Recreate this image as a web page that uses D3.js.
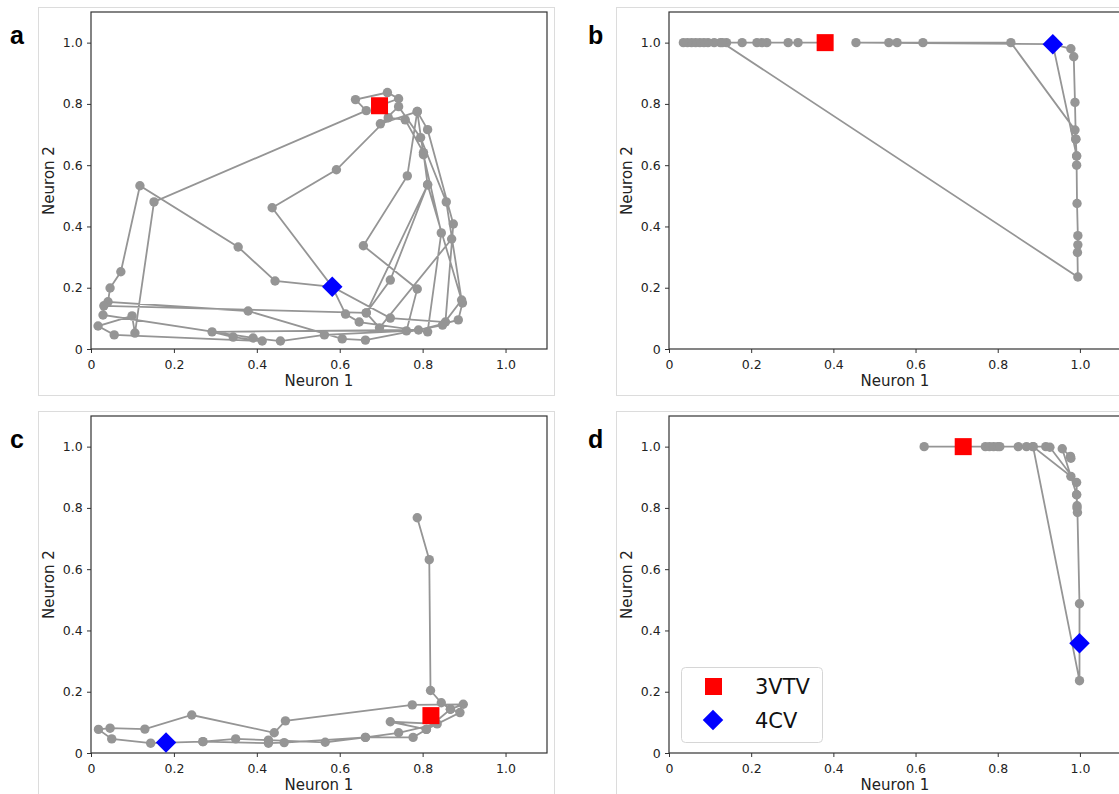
<!DOCTYPE html>
<html><head><meta charset="utf-8">
<script src="https://cdn.jsdelivr.net/npm/d3@7/dist/d3.min.js"></script>
<style>body{margin:0;background:#fff;}svg{display:block;font-family:"DejaVu Sans",sans-serif;}</style>
</head><body><svg id="c" width="1119" height="794"></svg>
<script>
const tickValues = [0, 0.2, 0.4, 0.6, 0.8, 1.0];
const xLabel = "Neuron 1", yLabel = "Neuron 2";
const panelLetters = ["a", "b", "c", "d"];
const legendLabels = ["3VTV", "4CV"];

const pathA = [[0.696,0.794],[0.742,0.817],[0.715,0.837],[0.638,0.814],[0.664,0.778],[0.152,0.480],[0.106,0.052],[0.099,0.108],[0.017,0.075],[0.056,0.046],[0.413,0.026],[0.343,0.039],[0.292,0.056],[0.790,0.062],[0.886,0.095],[0.896,0.150],[0.812,0.536],[0.802,0.641],[0.758,0.748],[0.717,0.755],[0.592,0.585],[0.437,0.461],[0.582,0.203],[0.722,0.101],[0.855,0.088],[0.874,0.408],[0.812,0.716],[0.787,0.775],[0.698,0.735],[0.742,0.791],[0.795,0.690],[0.857,0.480],[0.894,0.160],[0.848,0.078],[0.662,0.029],[0.606,0.033],[0.379,0.124],[0.041,0.154],[0.046,0.199],[0.072,0.252],[0.118,0.533],[0.355,0.333],[0.444,0.222],[0.582,0.203],[0.614,0.114],[0.647,0.088],[0.812,0.056],[0.845,0.379],[0.802,0.634],[0.787,0.775],[0.763,0.565],[0.657,0.337],[0.787,0.196],[0.761,0.059],[0.563,0.046],[0.457,0.026],[0.391,0.036],[0.029,0.111],[0.031,0.141],[0.664,0.118],[0.812,0.536],[0.722,0.225],[0.664,0.118],[0.696,0.069],[0.870,0.359]];
const pathB = [[0.380,1.0],[0.314,1.0],[0.290,1.0],[0.238,1.0],[0.226,1.0],[0.214,1.0],[0.178,1.0],[0.140,1.0],[0.125,1.0],[0.110,1.0],[0.095,1.0],[0.085,1.0],[0.075,1.0],[0.065,1.0],[0.055,1.0],[0.045,1.0],[0.035,1.0],[0.130,1.0],[0.995,0.235],[0.994,0.315],[0.995,0.340],[0.995,0.370],[0.993,0.475],[0.992,0.600],[0.992,0.630],[0.990,0.685],[0.988,0.715],[0.832,1.0],[0.618,1.0],[0.555,1.0],[0.535,1.0],[0.455,1.0],[0.934,0.995],[0.978,0.980],[0.985,0.954],[0.988,0.805],[0.990,0.685],[0.992,0.630],[0.934,0.995]];
const pathC = [[0.787,0.768],[0.816,0.631],[0.819,0.204],[0.845,0.164],[0.867,0.143],[0.898,0.159],[0.775,0.157],[0.469,0.105],[0.442,0.066],[0.243,0.124],[0.130,0.078],[0.046,0.081],[0.018,0.077],[0.050,0.046],[0.144,0.032],[0.270,0.037],[0.349,0.046],[0.428,0.042],[0.565,0.035],[0.662,0.051],[0.742,0.066],[0.835,0.095],[0.722,0.102],[0.809,0.077],[0.890,0.132],[0.867,0.143],[0.809,0.077],[0.777,0.051],[0.662,0.051],[0.466,0.034],[0.428,0.032],[0.270,0.037]];
const pathD = [[0.621,1.0],[0.716,1.0],[0.770,1.0],[0.780,1.0],[0.790,1.0],[0.800,1.0],[0.805,1.0],[0.850,1.0],[0.870,1.0],[0.886,1.0],[0.999,0.236],[0.999,0.358],[0.999,0.487],[0.994,0.785],[0.993,0.807],[0.992,0.843],[0.978,0.903],[0.886,1.0],[0.917,1.0],[0.927,0.998],[0.992,0.883],[0.993,0.800],[0.992,0.843],[0.957,0.993],[0.977,0.968],[0.978,0.962]];

const redMarkers = [[0.696,0.794],[0.380,1.0],[0.820,0.122],[0.716,1.0]];
const blueMarkers = [[0.582,0.203],[0.934,0.995],[0.181,0.034],[0.999,0.358]];
const paths = [pathA, pathB, pathC, pathD];

const svg = d3.select("#c");
const layout = [
  {x0:91, x1:547, yt:12, yb:349, fx:38, fy:7, fw:516, fh:388, lx:10, ly:44},
  {x0:669, x1:1121, yt:12, yb:349, fx:616, fy:7, fw:516, fh:388, lx:588, ly:44},
  {x0:91, x1:547, yt:416, yb:753, fx:38, fy:411, fw:516, fh:388, lx:10, ly:448},
  {x0:669, x1:1121, yt:416, yb:753, fx:616, fy:411, fw:516, fh:388, lx:588, ly:448}
];
const gray = "#959595";
layout.forEach((L, i) => {
  const g = svg.append("g");
  g.append("rect").attr("x", L.fx+0.5).attr("y", L.fy+0.5).attr("width", L.fw).attr("height", L.fh)
    .attr("fill", "none").attr("stroke", "#dcdcdc").attr("stroke-width", 1);
  const x = d3.scaleLinear().domain([0, 1.1]).range([L.x0, L.x1]);
  const y = d3.scaleLinear().domain([0, 1.1]).range([L.yb, L.yt]);
  const fmt = d => d === 0 ? "0" : d.toFixed(1);
  const xa = g.append("g").attr("transform", `translate(0,${L.yb})`)
    .call(d3.axisBottom(x).tickValues(tickValues).tickFormat(fmt).tickSize(4).tickSizeOuter(0));
  const ya = g.append("g").attr("transform", `translate(${L.x0},0)`)
    .call(d3.axisLeft(y).tickValues(tickValues).tickFormat(fmt).tickSize(4).tickSizeOuter(0));
  [xa, ya].forEach(a => {
    a.select(".domain").remove();
    a.selectAll("line").attr("stroke", "#333");
    a.selectAll("text").attr("font-size", 12.5).attr("fill", "#222").attr("font-family", "DejaVu Sans");
  });
  xa.selectAll("text").attr("dy", "1.0em");
  ya.selectAll("text").attr("dx", "-0.1em");
  g.append("rect").attr("x", L.x0).attr("y", L.yt).attr("width", L.x1 - L.x0).attr("height", L.yb - L.yt)
    .attr("fill", "none").attr("stroke", "#333").attr("stroke-width", 1.2);
  g.append("text").attr("x", (L.x0 + L.x1) / 2).attr("y", L.yb + 37).attr("text-anchor", "middle")
    .attr("font-size", 15).attr("fill", "#222").text(xLabel);
  g.append("text").attr("transform", `translate(${L.x0 - 37},${(L.yt + L.yb) / 2}) rotate(-90)`)
    .attr("text-anchor", "middle").attr("font-size", 15).attr("fill", "#222").text(yLabel);
  g.append("text").attr("x", L.lx).attr("y", L.ly).attr("font-size", 25).attr("font-weight", "bold")
    .attr("font-family", "Liberation Sans, Arial, sans-serif").attr("fill", "#000").text(panelLetters[i]);

  const clip = "clip" + i;
  svg.append("clipPath").attr("id", clip).append("rect").attr("x", L.x0).attr("y", L.yt)
    .attr("width", L.x1 - L.x0).attr("height", L.yb - L.yt);
  const pg = g.append("g").attr("clip-path", `url(#${clip})`);
  const line = d3.line().x(d => x(d[0])).y(d => y(d[1]));
  pg.append("path").attr("d", line(paths[i])).attr("fill", "none").attr("stroke", gray).attr("stroke-width", 1.8);
  pg.selectAll("circle").data(paths[i]).join("circle").attr("cx", d => x(d[0])).attr("cy", d => y(d[1]))
    .attr("r", 4.7).attr("fill", gray);
  const r = redMarkers[i], b = blueMarkers[i];
  pg.append("rect").attr("x", x(r[0]) - 8.5).attr("y", y(r[1]) - 8.5).attr("width", 17).attr("height", 17).attr("fill", "#ff0000");
  pg.append("path").attr("d", d3.symbol().type(d3.symbolSquare).size(210)()).attr("fill", "#0000ff")
    .attr("transform", `translate(${x(b[0])},${y(b[1])}) rotate(45)`);
  if (i === 3) {
    const lg = g.append("g");
    lg.append("rect").attr("x", 681.5).attr("y", 667.5).attr("width", 141).attr("height", 75).attr("rx", 4)
      .attr("fill", "#fff").attr("stroke", "#d6d6d6");
    lg.append("rect").attr("x", 705).attr("y", 678).attr("width", 17).attr("height", 17).attr("fill", "#ff0000");
    lg.append("path").attr("d", d3.symbol().type(d3.symbolSquare).size(210)()).attr("fill", "#0000ff")
      .attr("transform", `translate(713,720) rotate(45)`);
    lg.append("text").attr("x", 755).attr("y", 694).attr("font-size", 21).attr("fill", "#111").text(legendLabels[0]);
    lg.append("text").attr("x", 755).attr("y", 728).attr("font-size", 21).attr("fill", "#111").text(legendLabels[1]);
  }
});
</script></body></html>
